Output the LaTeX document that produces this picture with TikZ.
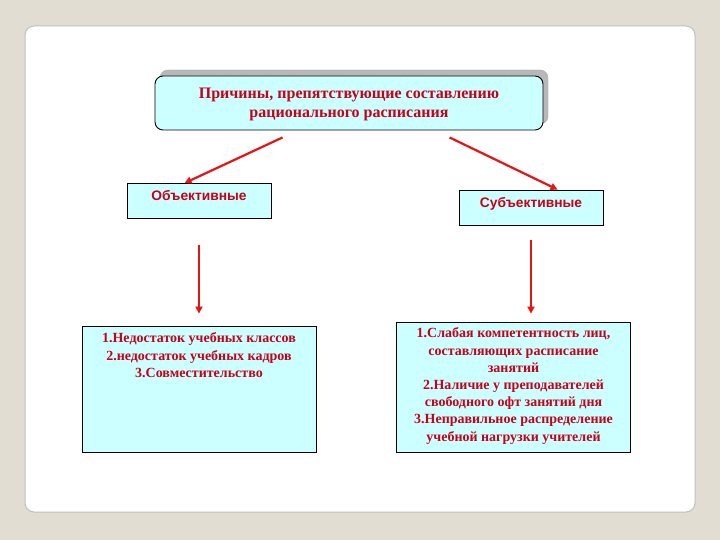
\documentclass[tikz,border=0pt]{standalone}
\usepackage{fontspec}
\setmainfont{Liberation Serif}
\setsansfont{Liberation Sans}
\usetikzlibrary{calc}
\usetikzlibrary{arrows.meta}
\usetikzlibrary{positioning}
\definecolor{slidebg}{RGB}{226,221,211}
\definecolor{boxfill}{RGB}{204,255,255}
\definecolor{txtred}{RGB}{200,0,24}
\definecolor{arrred}{RGB}{230,20,20}
\tikzset{panel/.style={rounded corners=9pt,fill=white,draw=black!25,line width=1pt}}
\tikzset{headbox/.style={rectangle,rounded corners=8pt,fill=boxfill,draw=black,line width=0.9pt,minimum width=388pt,minimum height=54pt,inner sep=0pt}}
\tikzset{headshadow/.style={rectangle,rounded corners=8pt,fill=black!28,draw=black!35,minimum width=388pt,minimum height=54pt,inner sep=0pt}}
\tikzset{kindbox/.style={rectangle,fill=boxfill,draw=black,line width=0.8pt,minimum width=144pt,minimum height=35pt,inner sep=0pt}}
\tikzset{listbox/.style={rectangle,fill=boxfill,draw=black,line width=0.8pt,minimum width=234pt,inner sep=0pt}}
\tikzset{serifred/.style={text=txtred,font=\fontsize{14}{17.2}\selectfont\bfseries,align=center,inner sep=0pt}}
\tikzset{sansred/.style={text=txtred,font=\sffamily\fontsize{13.8}{16}\selectfont\bfseries,inner sep=0pt}}
\tikzset{arr/.style={draw=arrred,line width=2.2pt,-{Triangle[length=7pt,width=7pt]}}}

\begin{document}
\begin{tikzpicture}[x=1pt,y=-1pt]
\useasboundingbox (0,0) rectangle (720,540);
\fill[slidebg] (0,0) rectangle (720,540);
\draw[panel] (25,26) rectangle (695,512);

% heading
\node[headshadow] (hshadow) at (354,97) {};
\node[headbox] (cause) at (349,103) {};
\node[serifred,font=\fontsize{16}{19}\selectfont\bfseries] (causetxt) at ([yshift=-1.5pt]cause.center) {Причины, препятствующие составлению\\рационального расписания};

% two kinds
\node[kindbox] (obj) at (199,201) {};
\node[sansred] (objtxt) at (199,196) {Объективные};
\node[kindbox] (subj) at (531,207.5) {};
\node[sansred] (subjtxt) at (531,204) {Субъективные};

% lists
\node[listbox,minimum height=126pt] (objlist) at (199,389) {};
\node[serifred,anchor=north] (objlisttxt) at ([yshift=-7pt]objlist.north)
  {1.Недостаток учебных классов\\2.недостаток учебных кадров\\3.Совместительство};
\node[listbox,minimum height=130pt] (subjlist) at (513.5,387) {};
\node[serifred,anchor=north] (subjlisttxt) at ([yshift=-6pt]subjlist.north)
  {1.Слабая компетентность лиц,\\составляющих расписание\\занятий\\2.Наличие у преподавателей\\свободного офт занятий дня\\3.Неправильное распределение\\учебной нагрузки  учителей};

% arrows
\draw[arr] ([xshift=128pt,yshift=-7pt]cause.south west) -- ([xshift=58pt]obj.north west);
\draw[arr] ([xshift=295pt,yshift=-7pt]cause.south west) -- ([xshift=99pt]subj.north west);
\draw[arr,shorten <=26pt,shorten >=12pt] (obj.south) -- (obj.south |- objlist.north);
\draw[arr,shorten <=15pt,shorten >=8pt] (subj.south) -- (subj.south |- subjlist.north);
\end{tikzpicture}
\end{document}
